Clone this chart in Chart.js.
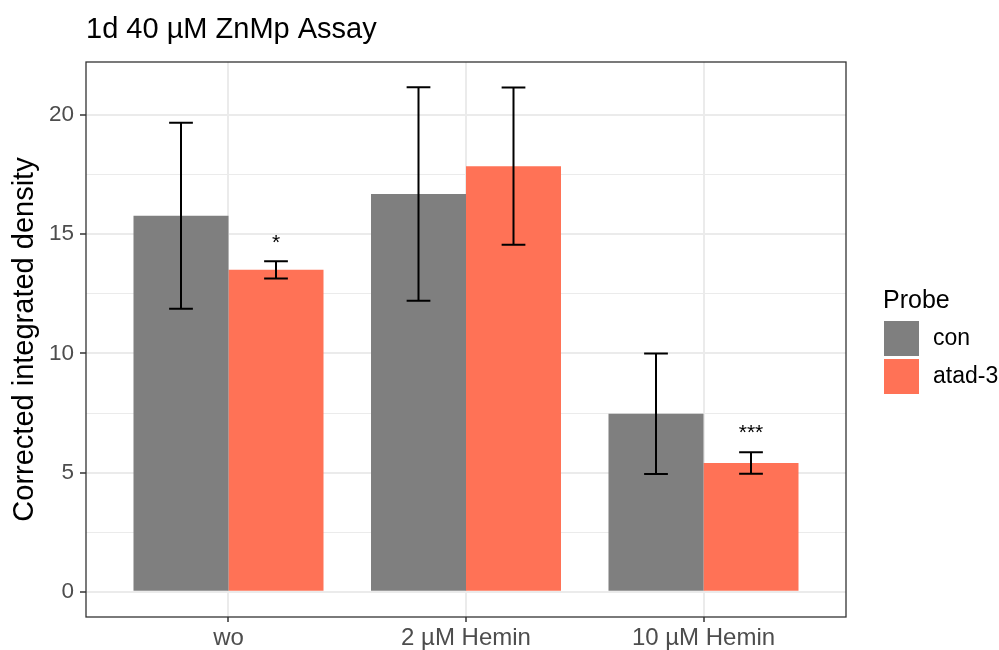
<!DOCTYPE html>
<html>
<head>
<meta charset="utf-8">
<script src="https://cdn.jsdelivr.net/npm/chart.js@4"></script>
<style>
  body { margin: 0; background: #fff; }
  #wrap { width: 999px; height: 650px; }
</style>
</head>
<body>
<div id="wrap"><canvas id="chart"></canvas></div>
<script>
const categories = ['wo', '2 µM Hemin', '10 µM Hemin'];
const probes = ['con', 'atad-3'];
const conMeans = [15.78, 16.69, 7.47];
const conSd = [3.90, 4.48, 2.53];
const atadMeans = [13.51, 17.86, 5.40];
const atadSd = [0.36, 3.30, 0.45];
const atadSig = ['*', '', '***'];
const atadSigY = [14.38, null, 6.42];
const yTicks = [0, 2.5, 5, 7.5, 10, 12.5, 15, 17.5, 20];
const yMajor = [0, 5, 10, 15, 20];

const FONT = "'Liberation Sans', Arial, sans-serif";
const colors = ['#7F7F7F', '#FF7256'];

// error bars + significance stars
const errorBars = {
  id: 'errorBars',
  afterDatasetsDraw(chart) {
    const ctx = chart.ctx;
    const y = chart.scales.y;
    const sds = [conSd, atadSd];
    const means = [conMeans, atadMeans];
    ctx.save();
    ctx.strokeStyle = '#000';
    ctx.lineWidth = 2;
    chart.data.datasets.forEach((ds, d) => {
      chart.getDatasetMeta(d).data.forEach((bar, i) => {
        const hi = y.getPixelForValue(means[d][i] + sds[d][i]);
        const lo = y.getPixelForValue(means[d][i] - sds[d][i]);
        const hw = bar.width * 0.125;
        ctx.beginPath();
        ctx.moveTo(bar.x, hi); ctx.lineTo(bar.x, lo);
        ctx.moveTo(bar.x - hw, hi); ctx.lineTo(bar.x + hw, hi);
        ctx.moveTo(bar.x - hw, lo); ctx.lineTo(bar.x + hw, lo);
        ctx.stroke();
      });
    });
    // stars
    ctx.fillStyle = '#000';
    ctx.font = '21px ' + FONT;
    ctx.textAlign = 'center';
    ctx.textBaseline = 'alphabetic';
    chart.getDatasetMeta(1).data.forEach((bar, i) => {
      if (atadSig[i]) ctx.fillText(atadSig[i], bar.x, y.getPixelForValue(atadSigY[i]));
    });
    ctx.restore();
  },
  afterDraw(chart) {
    const ctx = chart.ctx;
    const a = chart.chartArea;
    ctx.save();
    // panel border
    ctx.strokeStyle = '#333333';
    ctx.lineWidth = 1.3;
    ctx.strokeRect(a.left, a.top, a.right - a.left, a.bottom - a.top);
    // title
    ctx.fillStyle = '#000';
    ctx.font = '29px ' + FONT;
    ctx.textAlign = 'left';
    ctx.textBaseline = 'alphabetic';
    ctx.fillText('1d 40 µM ZnMp Assay', 86, 38);
    // legend
    ctx.font = '25px ' + FONT;
    ctx.fillText('Probe', 883, 308);
    ctx.font = '23px ' + FONT;
    ctx.textBaseline = 'middle';
    probes.forEach((p, k) => {
      const top = 321 + k * 38;
      ctx.fillStyle = colors[k];
      ctx.fillRect(884, top, 35, 35);
      ctx.fillStyle = '#000';
      ctx.fillText(p, 933, top + 18);
    });
    ctx.restore();
  }
};

new Chart(document.getElementById('chart'), {
  type: 'bar',
  data: {
    datasets: [
      {
        label: probes[0],
        data: conMeans.map((v, i) => ({ x: i + 1, y: v })),
        backgroundColor: colors[0]
      },
      {
        label: probes[1],
        data: atadMeans.map((v, i) => ({ x: i + 1, y: v })),
        backgroundColor: colors[1]
      }
    ]
  },
  options: {
    responsive: true,
    maintainAspectRatio: false,
    animation: false,
    categoryPercentage: 0.8,
    barPercentage: 1.0,
    layout: { padding: { top: 62, right: 153, left: 0, bottom: 0 } },
    plugins: {
      legend: { display: false },
      tooltip: { enabled: false },
      title: { display: false }
    },
    scales: {
      x: {
        type: 'linear',
        min: 0.4,
        max: 3.6,
        offset: false,
        afterBuildTicks: scale => { scale.ticks = categories.map((c, i) => ({ value: i + 1 })); },
        afterFit: scale => { scale.height = 33; },
        border: { display: false },
        grid: { offset: false, color: '#EBEBEB', lineWidth: 2, tickColor: '#333333', tickLength: 5, tickWidth: 1.5 },
        ticks: {
          autoSkip: false,
          maxRotation: 0,
          padding: 2,
          color: '#4D4D4D',
          font: { family: FONT, size: 24 },
          callback: (v, i) => categories[i]
        }
      },
      y: {
        min: -1.06,
        max: 22.23,
        afterBuildTicks: scale => { scale.ticks = yTicks.map(v => ({ value: v })); },
        afterFit: scale => { scale.width = 86; },
        border: { display: false },
        grid: {
          color: '#EBEBEB',
          lineWidth: ctx => yMajor.includes(ctx.tick.value) ? 2 : 1,
          tickColor: ctx => yMajor.includes(ctx.tick.value) ? '#333333' : 'rgba(0,0,0,0)',
          tickLength: 6,
          tickWidth: 1.5
        },
        ticks: {
          padding: 6,
          color: '#4D4D4D',
          font: { family: FONT, size: 22.5 },
          callback: v => yMajor.includes(v) ? v : ''
        },
        title: {
          display: true,
          text: 'Corrected integrated density',
          color: '#000',
          font: { family: FONT, size: 29 },
          padding: { top: 8, bottom: 0 }
        }
      }
    }
  },
  plugins: [errorBars]
});
</script>
</body>
</html>
